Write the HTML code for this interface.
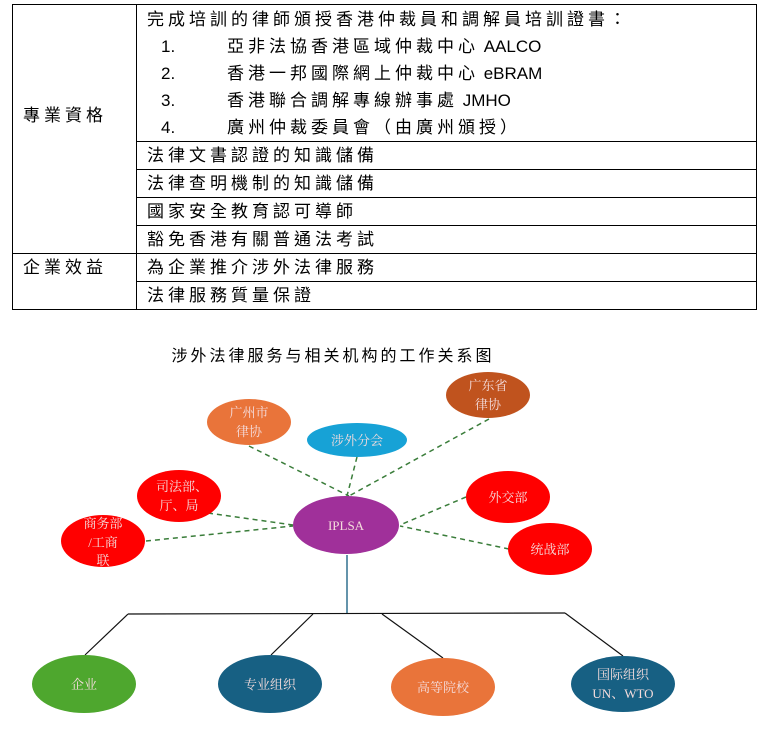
<!DOCTYPE html>
<html><head><meta charset="utf-8"><style>
body{margin:0;background:#fff;width:765px;height:740px;overflow:hidden;font-family:"Liberation Sans","Noto Sans CJK TC",sans-serif;}
table{position:absolute;left:12px;top:4px;border-collapse:collapse;width:745px;font-size:17px;color:#000;letter-spacing:4px;}
td{border:1px solid #000;padding:0 0 0 10px;height:27px;line-height:27px;box-sizing:border-box;white-space:nowrap;}
td.l{width:124px;}
.first{line-height:27px;padding-top:0;}
.li{display:flex;}
.li span.n{width:66px;padding-left:14px;letter-spacing:0;}
.e{letter-spacing:0;}
</style></head><body>
<table>
<tr><td class="l" rowspan="5" style="vertical-align:top;padding-top:97px">專業資格</td><td class="first" style="height:137px">完成培訓的律師頒授香港仲裁員和調解員培訓證書：
<div class="li"><span class="n">1.</span><span>亞非法協香港區域仲裁中心<span class="e"> AALCO</span></span></div>
<div class="li"><span class="n">2.</span><span>香港一邦國際網上仲裁中心<span class="e"> eBRAM</span></span></div>
<div class="li"><span class="n">3.</span><span>香港聯合調解專線辦事處<span class="e"> JMHO</span></span></div>
<div class="li"><span class="n">4.</span><span>廣州仲裁委員會（由廣州頒授）</span></div></td></tr>
<tr><td style="height:28px">法律文書認證的知識儲備</td></tr>
<tr><td style="height:28px">法律查明機制的知識儲備</td></tr>
<tr><td style="height:28px">國家安全教育認可導師</td></tr>
<tr><td style="height:28px">豁免香港有關普通法考試</td></tr>
<tr><td class="l" rowspan="2" style="vertical-align:top">企業效益</td><td style="height:28px">為企業推介涉外法律服務</td></tr>
<tr><td style="height:28px">法律服務質量保證</td></tr>
</table>
<svg width="765" height="740" style="position:absolute;left:0;top:0" font-family="'Liberation Serif','Noto Serif CJK SC',serif">
<text x="333" y="361" text-anchor="middle" font-size="16" font-family="'Liberation Sans','Noto Sans CJK SC',sans-serif" letter-spacing="3">涉外法律服务与相关机构的工作关系图</text>
<g stroke="#3a7d3a" stroke-width="1.5" stroke-dasharray="5,4" fill="none">
<line x1="249" y1="446" x2="349" y2="496"/>
<line x1="357" y1="457" x2="347" y2="496"/>
<line x1="489" y1="419" x2="349" y2="496"/>
<line x1="208" y1="513" x2="293" y2="525"/>
<line x1="146" y1="541" x2="293" y2="526"/>
<line x1="466" y1="497" x2="400" y2="525"/>
<line x1="509" y1="549" x2="400" y2="526"/>
</g>
<line x1="347" y1="555" x2="347" y2="614" stroke="#31708f" stroke-width="1.5"/>
<g stroke="#111" stroke-width="1.2" fill="none">
<line x1="128" y1="614" x2="565" y2="613"/>
<line x1="128" y1="614" x2="85" y2="655"/>
<line x1="313" y1="614" x2="271" y2="655"/>
<line x1="382" y1="614" x2="443" y2="658"/>
<line x1="565" y1="613" x2="623" y2="656"/>
</g>
<g font-size="13" fill="#f4dcdc" text-anchor="middle">
<ellipse cx="249" cy="422" rx="42" ry="23" fill="#E9743A"/>
<text x="249" y="417">广州市</text><text x="249" y="436">律协</text>
<ellipse cx="357" cy="440" rx="50" ry="17" fill="#17A2D6"/>
<text x="357" y="445">涉外分会</text>
<ellipse cx="488" cy="395" rx="42" ry="23" fill="#C0531E"/>
<text x="488" y="390">广东省</text><text x="488" y="409">律协</text>
<ellipse cx="179" cy="496" rx="42" ry="26" fill="#FF0000"/>
<text x="182" y="491">司法部、</text><text x="179" y="510">厅、局</text>
<ellipse cx="103" cy="541" rx="42" ry="26" fill="#FF0000"/>
<text x="103" y="528">商务部</text><text x="103" y="547">/工商</text><text x="103" y="565">联</text>
<ellipse cx="346" cy="525" rx="53" ry="29" fill="#A0309A"/>
<text x="346" y="530">IPLSA</text>
<ellipse cx="508" cy="497" rx="42" ry="26" fill="#FF0000"/>
<text x="508" y="502">外交部</text>
<ellipse cx="550" cy="549" rx="42" ry="26" fill="#FF0000"/>
<text x="550" y="554">统战部</text>
<ellipse cx="84" cy="684" rx="52" ry="29" fill="#4EA72E"/>
<text x="84" y="689">企业</text>
<ellipse cx="270" cy="684" rx="52" ry="29" fill="#176083"/>
<text x="270" y="689">专业组织</text>
<ellipse cx="443" cy="687" rx="52" ry="29" fill="#E9743A"/>
<text x="443" y="692">高等院校</text>
<ellipse cx="623" cy="684" rx="52" ry="28" fill="#176083"/>
<text x="623" y="679">国际组织</text><text x="623" y="698">UN、WTO</text>
</g>
</svg>
</body></html>
